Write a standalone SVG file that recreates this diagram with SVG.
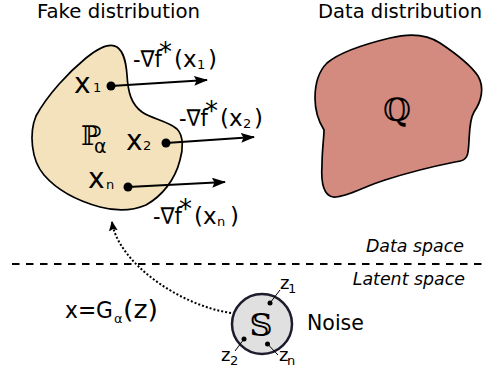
<svg xmlns="http://www.w3.org/2000/svg" width="491" height="368" viewBox="0 0 491 368">
<style>
text{font-family:"DejaVu Sans","Liberation Sans",sans-serif;fill:#000}
.t20{font-size:20px}
.lbl{font-size:23px}
.ast{font-size:26px}
.sub{font-size:13px}
.xl{font-size:28px}
.it{font-size:17.4px;font-style:italic}
.bb{font-family:"DejaVu Serif","DejaVu Sans",serif}
.blob{stroke:#000;stroke-width:1.7;stroke-linejoin:round}
.arr{stroke:#000;stroke-width:2;fill:none;marker-end:url(#ah)}
.thin{stroke:#000;stroke-width:1;fill:none}
</style>
<defs>
<marker id="ah" markerUnits="userSpaceOnUse" markerWidth="16" markerHeight="12" refX="13" refY="5" orient="auto">
<path d="M0,0 L14,5 L0,10 L2.5,5 Z" fill="#000"/>
</marker>
<marker id="ah2" markerUnits="userSpaceOnUse" markerWidth="12" markerHeight="12" refX="9" refY="4.5" orient="auto">
<path d="M0,0 L10,4.5 L0,9 L2,4.5 Z" fill="#000"/>
</marker>
</defs>

<text class="t20" x="37" y="18" textLength="163" lengthAdjust="spacingAndGlyphs">Fake distribution</text>
<text class="t20" x="318" y="18" textLength="164" lengthAdjust="spacingAndGlyphs">Data distribution</text>

<g id="fake">
<path class="blob" fill="#f4e2bc" d="M117,47 C124,52 126,62 127,75 C128,92 131,104 142,112 C152,119 168,121 177,129 C184,136 183,150 180,160 C175,180 162,196 146,205 C132,211 115,211 100,207 C78,201 57,190 44,175 C31,160 29,133 36,116 C48,94 69,72 86,58 C97,49 109,42 117,47 Z"/>
<text class="bb" x="81" y="145" font-size="27">ℙ</text>
<text x="94" y="153" font-size="19">α</text>
</g>

<g id="data">
<path class="blob" fill="#d38a7f" stroke-width="2.2" d="M327,63 C340,52 365,44 390,38 C410,33 428,35 440,43 C455,53 470,64 478,76 C485,88 481,102 474,112 C468,122 470,140 468,152 C467,160 462,161 455,162 C435,166 410,172 385,180 C365,186 345,198 333,197 C322,195 321,180 322,165 C322,150 324,138 324,130 C319,122 315,110 315,98 C315,85 318,72 327,63 Z"/>
<text class="bb" x="397" y="121" font-size="32" text-anchor="middle">ℚ</text>
</g>

<g id="x1">
<text class="xl" x="74" y="93">x</text><text class="sub" x="93" y="92">1</text>
<circle cx="111" cy="86" r="4.5"/>
</g>
<g id="x2">
<text class="xl" x="126" y="150">x</text><text class="sub" x="143" y="150">2</text>
<circle cx="166" cy="143" r="4.5"/>
</g>
<g id="xn">
<text class="xl" x="88" y="188">x</text><text class="sub" x="106" y="189">n</text>
<circle cx="128" cy="187" r="4.5"/>
</g>

<g id="grad1">
<text class="lbl" x="133" y="66.5" textLength="29" lengthAdjust="spacingAndGlyphs">-∇f</text>
<text class="ast" x="159" y="61">*</text>
<text class="lbl" x="174" y="66.5">(x</text>
<text class="sub" x="197" y="68.5">1</text>
<text class="lbl" x="208" y="66.5">)</text>
</g>
<g id="grad2">
<text class="lbl" x="179" y="125.5" textLength="29" lengthAdjust="spacingAndGlyphs">-∇f</text>
<text class="ast" x="205" y="120">*</text>
<text class="lbl" x="220" y="125.5">(x</text>
<text class="sub" x="243" y="127.5">2</text>
<text class="lbl" x="254" y="125.5">)</text>
</g>
<g id="gradn">
<text class="lbl" x="153" y="223.5" textLength="29" lengthAdjust="spacingAndGlyphs">-∇f</text>
<text class="ast" x="179" y="218">*</text>
<text class="lbl" x="194" y="223.5">(x</text>
<text class="sub" x="217" y="225.5">n</text>
<text class="lbl" x="230" y="223.5">)</text>
</g>

<g id="connectors">
<path class="arr" d="M111,86 L207,80"/>
<path class="arr" d="M166,143 L254,137"/>
<path class="arr" d="M128,187 L225,182"/>
<path d="M231,313 C178,305 118,262 112,222" stroke="#000" stroke-width="2" fill="none" stroke-dasharray="2 2" marker-end="url(#ah2)"/>
<path d="M12,264 H485" stroke="#000" stroke-width="1.8" stroke-dasharray="7.5 6.5"/>
</g>

<text class="it" x="464" y="252" text-anchor="end">Data space</text>
<text class="it" x="465" y="285" text-anchor="end">Latent space</text>

<g id="gen-label">
<text x="65" y="318" font-size="23" textLength="48" lengthAdjust="spacingAndGlyphs">x=G</text>
<text x="114" y="323" font-size="13">α</text>
<text x="123" y="318" font-size="25" textLength="35" lengthAdjust="spacingAndGlyphs">(z)</text>
</g>

<g id="noise">
<circle cx="262" cy="324" r="30" fill="#e0e0e0" stroke="#1c1c2c" stroke-width="2.5"/>
<text class="bb" x="261" y="336" font-size="32" text-anchor="middle">𝕊</text>
<circle cx="270" cy="303" r="2.5"/>
<circle cx="244" cy="339" r="2.5"/>
<circle cx="267.5" cy="344" r="2.5"/>
<path class="thin" d="M270,303 L280,290 M244,339 L235,351 M267.5,344 L278,355"/>
<text x="280" y="289" font-size="18">z</text><text class="sub" x="288" y="293">1</text>
<text x="221" y="361" font-size="18">z</text><text class="sub" x="230" y="365">2</text>
<text x="279" y="361" font-size="18">z</text><text class="sub" x="287" y="365">n</text>
<text x="307" y="330" font-size="20.5">Noise</text>
</g>
</svg>
